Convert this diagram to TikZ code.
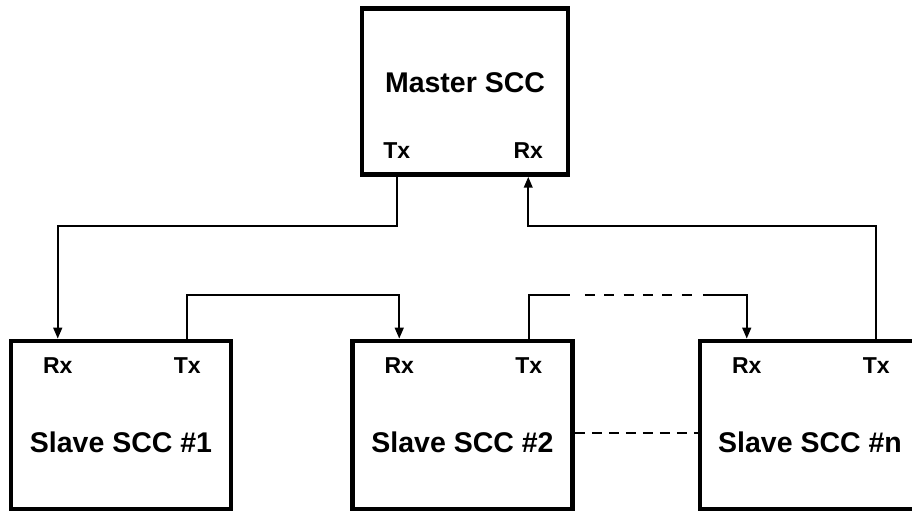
\documentclass[tikz,border=0pt]{standalone}
\usepackage{fontspec}
\setmainfont{Liberation Sans}
\usetikzlibrary{%
	arrows.meta,%
	calc,%
	positioning,%
}
\tikzset{
	>={Triangle[length=11pt,width=8.5pt]},%
	sccnode/.style={%
			draw,%
			rectangle,%
			line width=4.5pt,%
			inner sep=0pt,%
			minimum width=220pt,%
			minimum height=168pt},%
	masternode/.style={%
			sccnode,%
			minimum width=206pt,%
			minimum height=166pt},%
	namenode/.style={%
			font=\bfseries\fontsize{28.5}{32}\selectfont,%
			inner sep=0pt},%
	portnode/.style={%
			font=\bfseries\fontsize{23}{26}\selectfont,%
			inner sep=0pt},%
	busline/.style={%
			line width=2.4pt},%
	dashline/.style={%
			busline,%
			dash pattern=on 10pt off 7pt},%
}

\begin{document}
\begin{tikzpicture}[x=1pt, y=1pt]%
	\useasboundingbox (0,0) rectangle (912,513);
	\clip (0,0) rectangle (912,513);

	\node[sccnode] (slave1) at (121,88) {};
	\node[sccnode, right=117pt of slave1] (slave2) {};
	\node[sccnode, right=123pt of slave2] (slaven) {};
	\node[masternode, above=162pt of slave2, xshift=2.5pt] (master) {};

	\node[namenode] (mastername) at ([yshift=9pt]master.center) {Master SCC};
	\node[portnode] (mastertx) at ([shift={(37pt,26pt)}]master.south west) {Tx};
	\node[portnode] (masterrx) at ([shift={(-42pt,26pt)}]master.south east) {Rx};

	\node[namenode] (slave1name) at ([yshift=-17pt]slave1.center) {Slave SCC \#1};
	\node[portnode] (slave1rx) at ([shift={(49pt,-27pt)}]slave1.north west) {Rx};
	\node[portnode] (slave1tx) at ([shift={(-46pt,-27pt)}]slave1.north east) {Tx};

	\node[namenode] (slave2name) at ([yshift=-17pt]slave2.center) {Slave SCC \#2};
	\node[portnode] (slave2rx) at ([shift={(49pt,-27pt)}]slave2.north west) {Rx};
	\node[portnode] (slave2tx) at ([shift={(-46pt,-27pt)}]slave2.north east) {Tx};

	\node[namenode] (slavenname) at ([yshift=-17pt]slaven.center) {Slave SCC \#n};
	\node[portnode] (slavenrx) at ([shift={(49pt,-27pt)}]slaven.north west) {Rx};
	\node[portnode] (slaventx) at ([shift={(-46pt,-27pt)}]slaven.north east) {Tx};

	\draw[->, busline] (mastertx |- master.south) -- ++(0,-49) -| (slave1rx |- slave1.north);
	\draw[->, busline] (slaventx |- slaven.north) -- ++(0,113) -| (masterrx |- master.south);
	\draw[->, busline] (slave1tx |- slave1.north) -- ++(0,44) -| (slave2rx |- slave2.north);

	\coordinate (gapl) at ($(slave2tx |- slave2.north)+(41,44)$);
	\coordinate (gapr) at ($(slavenrx |- slaven.north)+(-44,44)$);
	\draw[busline] (slave2tx |- slave2.north) |- (gapl);
	\draw[busline, dash pattern=on 10pt off 9.4pt, shorten <=15pt, shorten >=11pt] (gapl) -- (gapr);
	\draw[->, busline] (gapr) -| (slavenrx |- slaven.north);

	\draw[dashline] ([yshift=-8pt]slave2.east) -- ([yshift=-8pt]slaven.west);
\end{tikzpicture}
\end{document}
